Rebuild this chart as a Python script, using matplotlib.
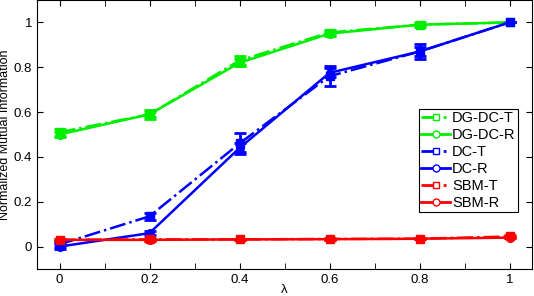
import matplotlib
matplotlib.use("Agg")
import matplotlib.pyplot as plt

plt.rcParams['font.family'] = ['Liberation Sans', 'DejaVu Sans']

lam = [0, 0.2, 0.4, 0.6, 0.8, 1.0]
dgdc_t = [0.51, 0.59, 0.83, 0.955, 0.99, 1.0]
dgdc_r = [0.50, 0.59, 0.82, 0.95, 0.99, 1.0]
dgdc_t_err = [0.015, 0.02, 0.02, 0.01, 0.01, 0.0]
dgdc_r_err = [0.01, 0.01, 0.015, 0.01, 0.005, 0.0]
dc_t = [0.01, 0.135, 0.46, 0.76, 0.87, 1.0]
dc_r = [0.0, 0.06, 0.44, 0.775, 0.87, 1.0]
dc_t_err = [0.01, 0.015, 0.045, 0.045, 0.035, 0.0]
dc_r_err = [0.01, 0.01, 0.02, 0.02, 0.02, 0.0]
sbm_t = [0.03, 0.032, 0.032, 0.034, 0.035, 0.045]
sbm_r = [0.03, 0.03, 0.032, 0.033, 0.035, 0.04]
sbm_t_err = [0.005, 0.005, 0.003, 0.003, 0.003, 0.005]
sbm_r_err = [0.003, 0.003, 0.003, 0.003, 0.003, 0.003]

fig = plt.figure(figsize=(5.34, 2.96), dpi=100)
ax = fig.add_axes([37/534, 1 - 269/296, (532 - 37)/534, 269/296])

G = '#00ee00'
B = '#0000ff'
R = '#ff0000'

series = [
    ('DG-DC-T', dgdc_t, dgdc_t_err, G, 's', '-.'),
    ('DG-DC-R', dgdc_r, dgdc_r_err, G, 'o', '-'),
    ('DC-T', dc_t, dc_t_err, B, 's', '-.'),
    ('DC-R', dc_r, dc_r_err, B, 'o', '-'),
    ('SBM-T', sbm_t, sbm_t_err, R, 's', '-.'),
    ('SBM-R', sbm_r, sbm_r_err, R, 'o', '-'),
]
for name, y, e, c, m, ls in series:
    ax.errorbar(lam, y, yerr=e, color=c, marker=m, linestyle=ls, linewidth=1.8,
                markersize=5.5, markerfacecolor=c, markeredgecolor=c,
                capsize=4, capthick=2, elinewidth=2, label=name)
from matplotlib.lines import Line2D
handles = [Line2D([], [], color=c, marker=m, linestyle=ls, linewidth=2,
                  markersize=5, markerfacecolor='white', markeredgecolor=c)
           for name, y, e, c, m, ls in series]
labels = [s[0] for s in series]
leg = ax.legend(handles, labels, loc='upper left', bbox_to_anchor=(0.772, 0.595),
                fontsize=10.5, frameon=True, fancybox=False, framealpha=1,
                edgecolor='black', borderpad=0.15, labelspacing=0.2,
                handlelength=2.0, handletextpad=0.1, borderaxespad=0)
leg.get_frame().set_linewidth(0.8)

ax.set_xlim(-0.05, 1.05)
ax.set_ylim(-0.1, 1.1)
ax.set_xticks([0, 0.2, 0.4, 0.6, 0.8, 1])
ax.set_xticklabels(['0', '0.2', '0.4', '0.6', '0.8', '1'])
ax.set_yticks([0, 0.2, 0.4, 0.6, 0.8, 1])
ax.set_yticklabels(['0', '0.2', '0.4', '0.6', '0.8', '1'])
ax.tick_params(direction='in', top=True, right=True, labelsize=9.5, length=4)
ax.set_xticks([0.1, 0.3, 0.5, 0.7, 0.9], minor=True)
ax.tick_params(which='minor', direction='in', top=True, bottom=True, length=4)
ax.set_xlabel('λ', fontsize=9.5, labelpad=-1)
ax.set_ylabel('Normalized Mutual Information', fontsize=9, labelpad=2)
for s in ax.spines.values():
    s.set_linewidth(0.8)

fig.savefig('out.png', dpi=100)
